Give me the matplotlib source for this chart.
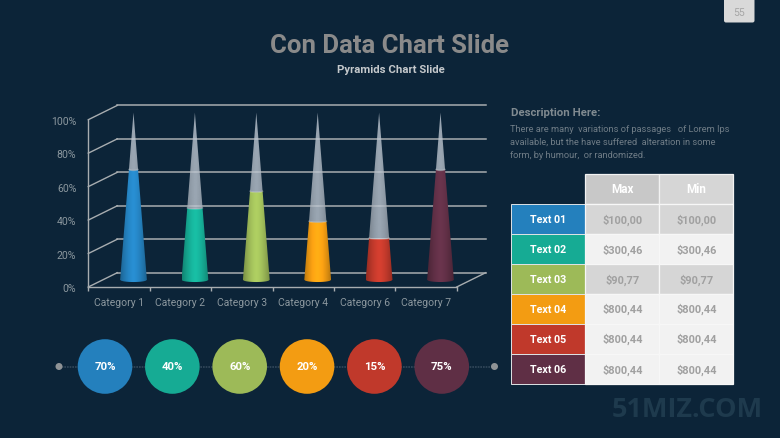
import numpy as np
import matplotlib.pyplot as plt
from matplotlib.colors import to_rgb
from matplotlib.patches import Circle, FancyBboxPatch, Polygon, Rectangle

# 中文备注: 所有数值从参考图读取
categories = ["Category 1", "Category 2", "Category 3", "Category 4", "Category 6", "Category 7"]
fill_values = [66, 43, 53, 35, 25, 66]
colors = ["#2480bd", "#16ab94", "#9dba58", "#f39c12", "#c0392b", "#5f2f45"]
y_ticks = [0, 20, 40, 60, 80, 100]
circle_labels = ["70%", "40%", "60%", "20%", "15%", "75%"]
row_labels = ["Text 01", "Text 02", "Text 03", "Text 04", "Text 05", "Text 06"]
max_col = ["$100,00", "$300,46", "$90,77", "$800,44", "$800,44", "$800,44"]
min_col = ["$100,00", "$300,46", "$90,77", "$800,44", "$800,44", "$800,44"]
headers = ["Max", "Min"]
desc_lines = [
    "There are many  variations of passages   of Lorem Ips",
    "available, but the have suffered  alteration in some",
    "form, by humour,  or randomized.",
]

BG = "#0c2438"
plt.rcParams["font.family"] = ["Roboto", "DejaVu Sans"]
plt.rcParams["text.parse_math"] = False

fig = plt.figure(figsize=(7.8, 4.39), dpi=100, facecolor=BG)

# 整页的像素坐标层
page = fig.add_axes([0, 0, 1, 1])
page.set_xlim(0, 780)
page.set_ylim(439, 0)
page.axis("off")

# 页码
page.add_patch(FancyBboxPatch((724, -8), 30.5, 31.5, boxstyle="round,pad=0,rounding_size=2",
                              fc="#d9d9d9", ec="none"))
page.text(739.5, 12.5, "55", color="#a6a6a6", fontsize=7.5, ha="center", va="center")

page.text(390, 46, "Con Data Chart Slide", color="#8a8a8a", fontsize=18.5, fontweight="bold",
          ha="center", va="center")
page.text(391, 70, "Pyramids Chart Slide", color="#c4c8cb", fontsize=8.2, fontweight="bold",
          ha="center", va="center")

# 说明文字
page.text(511, 113, "Description Here:", color="#808a90", fontsize=8.2, fontweight="bold",
          ha="left", va="center")
for _i, line in enumerate(desc_lines):
    page.text(510.5, 129.5 + _i * 13, line, color="#6f7c86", fontsize=6.7, ha="left", va="center")

# 圆形百分比
page.plot([59, 494.5], [367.5, 367.5], color="#33485a", lw=1.2, ls=(0, (1, 0.6)), zorder=1)
for xx in (59, 494.5):
    page.add_patch(Circle((xx, 367.5), 3.5, fc="#8f9396", ec="none", zorder=2))
for _i, (lab, col) in enumerate(zip(circle_labels, colors)):
    cx = 105 + _i * 67.35
    page.add_patch(Circle((cx, 367.5), 27.3, fc=col, ec="none", zorder=3))
    page.text(cx, 367.5, lab, color="white", fontsize=8.2, fontweight="bold",
              ha="center", va="center", zorder=4)

# 表格
col_x = [511, 585.3, 659.3, 733.3]
row_y = [175.3, 205.3, 235.3, 265, 294.7, 324.7, 354.7, 385]
header_fc = ["#c8c8c8", "#d6d6d6"]
for _j, txt in enumerate(headers):
    page.add_patch(Rectangle((col_x[_j + 1], row_y[0]), col_x[_j + 2] - col_x[_j + 1], row_y[1] - row_y[0],
                             fc=header_fc[_j], ec="#f2f2f2", lw=0.9))
    page.text((col_x[_j + 1] + col_x[_j + 2]) / 2, (row_y[0] + row_y[1]) / 2 - 0.5, txt, color="white",
              fontsize=8.4, fontweight="bold", ha="center", va="center")
for _i in range(6):
    y0, y1 = row_y[_i + 1], row_y[_i + 2]
    ym = (y0 + y1) / 2
    page.add_patch(Rectangle((col_x[0], y0), col_x[1] - col_x[0], y1 - y0, fc=colors[_i], ec="#dfe3e6", lw=0.7))
    page.text((col_x[0] + col_x[1]) / 2, ym, row_labels[_i], color="white", fontsize=7.7,
              fontweight="bold", ha="center", va="center")
    cell_fc = "#d6d6d6" if _i in (0, 2) else "#f2f2f2"
    for _j, vals in enumerate((max_col, min_col)):
        page.add_patch(Rectangle((col_x[_j + 1], y0), col_x[_j + 2] - col_x[_j + 1], y1 - y0,
                                 fc=cell_fc, ec="#f7f7f7", lw=0.9))
        page.text((col_x[_j + 1] + col_x[_j + 2]) / 2, ym, vals[_i], color="#a0a0a0", fontsize=7.9,
                  fontweight="bold", ha="center", va="center")

# 水印
page.text(687, 410, "51MIZ.COM", color="#1e3a4d", fontsize=19.5, fontweight="bold",
          family=["Open Sans", "DejaVu Sans"], ha="center", va="center")

# 图表层: 坐标轴对应假3D的前平面
left, right, top, bottom = 88.3, 456.7, 120.7, 288
ax = fig.add_axes([left / 780, 1 - bottom / 439, (right - left) / 780, (bottom - top) / 439])
ax.patch.set_alpha(0)
n = len(categories)
depth_x = 29 * n / (right - left)
depth_y = 14.3 * 100 / (bottom - top)

line_col = "#a8adb0"
for yy in y_ticks:
    ax.plot([-0.5 + depth_x, n - 0.5 + depth_x], [yy + depth_y, yy + depth_y],
            color=line_col, lw=1.1, clip_on=False, zorder=1)
    ax.plot([-0.5, -0.5 + depth_x], [yy, yy + depth_y], color=line_col, lw=1, clip_on=False, zorder=1)
ax.plot([n - 0.5, n - 0.5 + depth_x], [0, depth_y], color=line_col, lw=1, clip_on=False, zorder=1)


def shade(col, alpha=1.0):
    # 横向渐变: 中间亮, 两边暗
    t = np.abs(np.linspace(-1, 1, 60))
    k = 1.12 - 0.35 * t ** 1.5
    rgb = np.clip(np.outer(k, to_rgb(col)), 0, 1)
    a = np.full((60, 1), alpha)
    return np.hstack([rgb, a])[np.newaxis, :, :]


half_w = 13.4 * n / (right - left)
apex = 100
arc = np.linspace(-1, 1, 25)
for _i, (val, col) in enumerate(zip(fill_values, colors)):
    cx = _i + depth_x / 2
    base = depth_y / 2
    w_v = half_w * (1 - val / apex)
    bot_x = cx + half_w * arc
    bot_y = base - 1.3 * np.sqrt(1 - arc ** 2)
    top_x = cx + w_v * arc[::-1]
    top_y = base + val - 0.6 * np.sqrt(1 - arc ** 2)
    low = Polygon(np.r_[np.c_[bot_x, bot_y], np.c_[top_x, top_y]], closed=True,
                  transform=ax.transData, fc="none", ec="none")
    up = Polygon(np.r_[np.c_[top_x[::-1], top_y[::-1]], [[cx, base + apex]]], closed=True,
                 transform=ax.transData, fc="none", ec="none")
    ax.add_patch(low)
    ax.add_patch(up)
    extent = (cx - half_w, cx + half_w, base - 2, base + apex)
    im = ax.imshow(shade(col), extent=extent, aspect="auto", zorder=3, interpolation="bilinear")
    im.set_clip_box(fig.bbox)
    im.set_clip_path(low)
    im2 = ax.imshow(shade("#aab2bb", 0.8), extent=extent, aspect="auto", zorder=3, interpolation="bilinear")
    im2.set_clip_box(fig.bbox)
    im2.set_clip_path(up)
    ax.plot(top_x, top_y, color="white", alpha=0.3, lw=1, zorder=4, clip_on=False)

ax.set_xlim(-0.5, n - 0.5)
ax.set_ylim(0, 100)
for side in ("top", "right"):
    ax.spines[side].set_visible(False)
for side in ("left", "bottom"):
    ax.spines[side].set_color(line_col)
    ax.spines[side].set_linewidth(1)
ax.set_yticks(y_ticks)
ax.set_yticklabels([f"{v}%" for v in y_ticks], color="#8b979e", fontsize=7.6)
ax.tick_params(axis="y", length=0, pad=8.5)
ax.set_xticks(np.arange(n + 1) - 0.5)
ax.set_xticklabels([])
ax.tick_params(axis="x", which="major", length=3, color=line_col, width=1)
ax.set_xticks(np.arange(n), minor=True)
ax.set_xticklabels(categories, minor=True, color="#8b979e", fontsize=7.5)
ax.tick_params(axis="x", which="minor", length=0, pad=7.5)

plt.savefig("out.png", dpi=100, facecolor=BG)
